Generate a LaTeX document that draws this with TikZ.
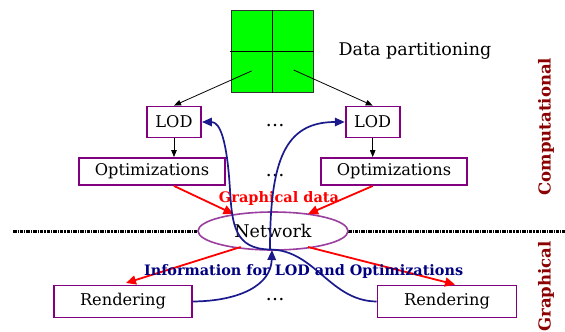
\documentclass[tikz,border=0pt]{standalone}
\usepackage{fontspec}
\setmainfont{DejaVu Serif}
\usetikzlibrary{arrows.meta,shapes.geometric}
\definecolor{boxpurple}{HTML}{800080}
\definecolor{netpurple}{HTML}{9A3FA0}
\definecolor{infonavy}{HTML}{000080}
\definecolor{curvenavy}{HTML}{1A1A8C}
\definecolor{labelred}{HTML}{8B0000}
\begin{document}
\begin{tikzpicture}[x=1pt,y=-1pt,
  pbox/.style={draw=boxpurple,line width=1.9pt,fill=white,inner sep=0pt,font=\fontsize{16.2}{18}\selectfont},
  blk/.style={-{Triangle[length=7pt,width=5.5pt]},line width=0.8pt},
  redarr/.style={red,line width=1.8pt,-{Triangle[length=10pt,width=9pt]}},
  bluecurve/.style={curvenavy,line width=1.7pt},
  bluetip/.style={-{Triangle[length=10pt,width=8.5pt]}},
  side/.style={labelred,font=\bfseries\fontsize{16.5}{18}\selectfont,rotate=90},
  dots/.style={font=\fontsize{19}{20}\selectfont}
]
\useasboundingbox (0,0) rectangle (565,332);
% dashed separator
\draw[line width=2.1pt,dash pattern=on 3.5pt off 1pt on 1.2pt off 1pt] (13,231.5) -- (198,231.5);
\draw[line width=2.1pt,dash pattern=on 3.5pt off 1pt on 1.2pt off 1pt] (348,231.5) -- (565,231.5);
% data partition square
\node[draw=black!80,fill=green,minimum width=82pt,minimum height=82pt,inner sep=0pt,line width=1pt] (sq) at (272.5,51) {};
\draw[line width=1pt] (sq.north) -- (sq.south);
\draw[line width=1pt] ([xshift=-1.5pt]sq.west) -- (sq.east);
\node[font=\fontsize{17.5}{20}\selectfont] (dp) at (415,51) {Data partitioning};
\coordinate (sqL) at (251.5,71);
\coordinate (sqR) at (293.7,70);
% LOD boxes
\node[pbox,minimum width=54pt,minimum height=31pt] (lodL) at (174,122) {LOD};
\node[pbox,minimum width=54pt,minimum height=31pt] (lodR) at (372.7,122) {LOD};
% Optimizations
\node[pbox,minimum width=146pt,minimum height=27pt] (optL) at (152,171.5) {Optimizations};
\node[pbox,minimum width=146pt,minimum height=27pt] (optR) at (394,171.5) {Optimizations};
% Network
\node[ellipse,draw=netpurple,line width=1.6pt,fill=white,minimum width=150pt,minimum height=38pt,inner sep=0pt,font=\fontsize{17.5}{20}\selectfont] (net) at (273,231) {Network};
% Rendering
\node[pbox,minimum width=138pt,minimum height=32pt] (renL) at (123,301.5) {Rendering};
\node[pbox,minimum width=139pt,minimum height=32pt] (renR) at (447,301.5) {Rendering};
% dots
\node[dots] (d1) at (275,126) {\dots};
\node[dots] (d2) at (275,176) {\dots};
\node[dots] (d3) at (275,300) {\dots};
% black arrows
\draw[blk] (sqL) -- (lodL.north);
\draw[blk] (sqR) -- (lodR.north);
\draw[blk] (lodL.south) -- (optL.north -| lodL.south);
\draw[blk] (lodR.south) -- (optR.north -| lodR.south);
% red arrows
\coordinate (netNW) at (233.5,214);
\coordinate (netNE) at (308,214);
\coordinate (netSW) at (240.7,247);
\coordinate (netSE) at (308,247);
\coordinate (renLt) at (126,283);
\coordinate (renRt) at (455,284.5);
\draw[redarr] (optL.south -| lodL.south) -- (netNW);
\draw[redarr] (optR.south -| lodR.south) -- (netNE);
\draw[redarr] (netSW) -- (renLt);
\draw[redarr] (netSE) -- (renRt);
\node[red,font=\bfseries\fontsize{14.5}{16}\selectfont] (gd) at (279,198) {Graphical data};
% blue curves
\coordinate (netB) at (270,249.5);
\coordinate (netT) at (272,250);
\draw[bluecurve,bluetip] (renL.east) .. controls (240,301) and (271,285) .. (netT);
\draw[bluecurve] (renR.west) .. controls (330,301) and (315,250) .. (netB);
\draw[bluecurve,bluetip] (netB) .. controls (235,249) and (232,225) .. (230,190) .. controls (227,140) and (220,122) .. (lodL.east);
\draw[bluecurve,bluetip] (netB) .. controls (270,160) and (285,122) .. (lodR.west);
\node[infonavy,font=\bfseries\fontsize{14.4}{16}\selectfont] (info) at (303.6,271.5) {Information for LOD and Optimizations};
% side labels
\node[side] (comp) at (546,126.5) {Computational};
\node[side] (graph) at (546,286.5) {Graphical};
\end{tikzpicture}
\end{document}
